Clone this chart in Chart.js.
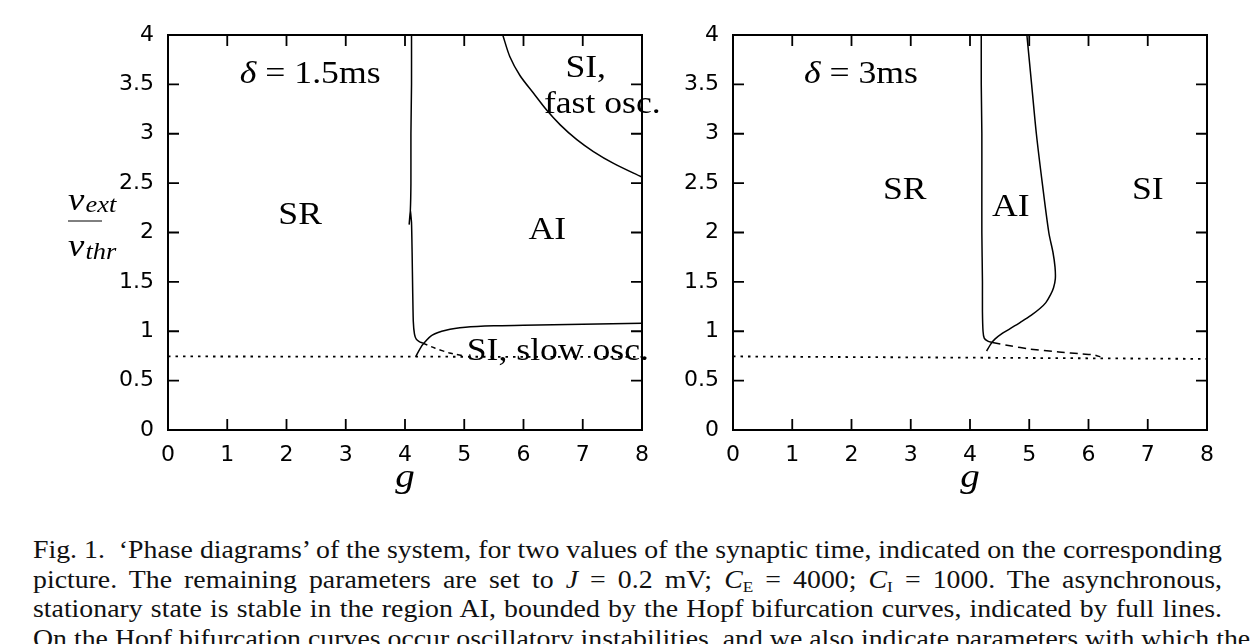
<!DOCTYPE html>
<html><head><meta charset="utf-8">
<script src="https://cdn.jsdelivr.net/npm/chart.js@4.4.1/dist/chart.umd.min.js"></script>
<style>
html,body{margin:0;padding:0;background:#fff;width:1254px;height:644px;overflow:hidden;position:relative;}
#c1{position:absolute;left:0;top:0;}
#c2{position:absolute;left:660px;top:0;}
#cap{position:absolute;left:33px;top:535px;font-family:'Liberation Serif',serif;font-size:24.5px;line-height:29.7px;color:#111;transform-origin:0 0;}
#cap div{text-align:justify;text-align-last:justify;white-space:nowrap;}
#cap sub{font-size:0.62em;vertical-align:-0.25em;line-height:0;}
</style></head><body>
<canvas id="c1" width="680" height="500"></canvas>
<canvas id="c2" width="594" height="500"></canvas>
<div id="cap">
<div id="l1">Fig. 1.&nbsp; ‘Phase diagrams’ of the system, for two values of the synaptic time, indicated on the corresponding</div>
<div>picture. The remaining parameters are set to <i>J</i> = 0.2 mV; <i>C</i><sub>E</sub> = 4000; <i>C</i><sub>I</sub> = 1000. The asynchronous,</div>
<div>stationary state is stable in the region AI, bounded by the Hopf bifurcation curves, indicated by full lines.</div>
<div>On the Hopf bifurcation curves occur oscillatory instabilities, and we also indicate parameters with which the SR state</div>
</div>
<script>
// ---- axes ----
const gTicks = [0, 1, 2, 3, 4, 5, 6, 7, 8];
const nuTicks = [0, 0.5, 1, 1.5, 2, 2.5, 3, 3.5, 4];

// ---- panel A: delta = 1.5 ms ----
const aLeftG  = [4.11, 4.11, 4.10, 4.10, 4.09, 4.07, 4.09, 4.11, 4.12, 4.13, 4.14, 4.16, 4.19, 4.24, 4.30];
const aLeftNu = [4.00, 3.50, 3.00, 2.50, 2.22, 2.08, 2.22, 2.10, 1.80, 1.40, 1.10, 0.97, 0.92, 0.895, 0.88];
const aDashG  = [4.30, 4.50, 4.75, 5.00];
const aDashNu = [0.88, 0.83, 0.78, 0.75];
const aLowG   = [4.18, 4.25, 4.32, 4.46, 4.69, 5.02, 5.50, 6.00, 7.00, 8.00];
const aLowNu  = [0.74, 0.82, 0.88, 0.96, 1.01, 1.04, 1.055, 1.06, 1.07, 1.08];
const aFastG  = [5.65, 5.77, 5.94, 6.17, 6.39, 6.62, 6.90, 7.18, 7.52, 8.00];
const aFastNu = [4.00, 3.78, 3.59, 3.41, 3.24, 3.09, 2.94, 2.82, 2.70, 2.56];
const aDotG   = [0, 8];
const aDotNu  = [0.745, 0.74];

// ---- panel B: delta = 3 ms ----
const bLeftG  = [4.19, 4.19, 4.20, 4.20, 4.20, 4.21, 4.21, 4.22, 4.24, 4.30, 4.38];
const bLeftNu = [4.00, 3.50, 3.00, 2.50, 2.00, 1.50, 1.20, 1.00, 0.93, 0.90, 0.885];
const bDashG  = [4.38, 4.70, 5.00, 5.50, 5.90, 6.10, 6.20];
const bDashNu = [0.885, 0.85, 0.82, 0.79, 0.77, 0.76, 0.74];
const bRightG  = [4.28, 4.35, 4.42, 4.55, 4.66, 4.85, 5.03, 5.18, 5.28, 5.36, 5.41, 5.44, 5.435, 5.40, 5.33, 5.22, 5.12, 5.04, 4.96];
const bRightNu = [0.80, 0.87, 0.92, 0.98, 1.02, 1.09, 1.16, 1.23, 1.29, 1.37, 1.44, 1.53, 1.65, 1.80, 2.00, 2.50, 3.00, 3.50, 4.00];
const bDotG   = [0, 8];
const bDotNu  = [0.745, 0.72];

// ---- region labels (text, g, nu of baseline) ----
const aLabels = [
  {parts: [['δ', true], [' = 1.5ms', false]], g: 2.40, v: 3.51, size: 31},
  {parts: [['SR', false]], g: 2.23, v: 2.09, size: 31},
  {parts: [['AI', false]], g: 6.40, v: 1.93, size: 31},
  {parts: [['SI,', false]], g: 7.05, v: 3.57, size: 31},
  {parts: [['fast osc.', false]], g: 7.33, v: 3.21, size: 31},
  {parts: [['SI, slow osc.', false]], g: 6.58, v: 0.71, size: 31}
];
const bLabels = [
  {parts: [['δ', true], [' = 3ms', false]], g: 2.16, v: 3.51, size: 31},
  {parts: [['SR', false]], g: 2.90, v: 2.34, size: 31},
  {parts: [['AI', false]], g: 4.69, v: 2.17, size: 31},
  {parts: [['SI', false]], g: 7.00, v: 2.34, size: 31}
];

function pts(gs, nus) { return gs.map((g, i) => ({x: g, y: nus[i]})); }
function ds(gs, nus, dash, tension, width) {
  return {data: pts(gs, nus), showLine: true, borderColor: '#000', borderWidth: width || 1.5,
          borderDash: dash || [], pointRadius: 0, tension: tension === undefined ? 0.25 : tension, fill: false};
}

const SX = 1.15;
function drawParts(ctx, parts, cx, by, size) {
  let total = 0;
  const widths = parts.map(([t, it]) => {
    ctx.font = (it ? 'italic ' : '') + size + 'px "Liberation Serif"';
    const w = ctx.measureText(t).width; total += w; return w;
  });
  let x = cx - total * SX / 2;
  parts.forEach(([t, it], i) => {
    ctx.font = (it ? 'italic ' : '') + size + 'px "Liberation Serif"';
    ctx.save(); ctx.translate(x, by); ctx.scale(SX, 1); ctx.fillText(t, 0, 0); ctx.restore();
    x += widths[i] * SX;
  });
}

const decor = {
  id: 'phaseDecor',
  afterDatasetsDraw(chart, args, opts) {
    const {ctx, chartArea: a, scales: {x, y}} = chart;
    ctx.save();
    ctx.strokeStyle = '#000'; ctx.fillStyle = '#000';
    ctx.lineWidth = 2;
    ctx.strokeRect(a.left, a.top, a.right - a.left, a.bottom - a.top);
    ctx.lineWidth = 1.8;
    const L = 11;
    ctx.beginPath();
    gTicks.forEach(v => { const p = x.getPixelForValue(v);
      ctx.moveTo(p, a.bottom); ctx.lineTo(p, a.bottom - L);
      ctx.moveTo(p, a.top); ctx.lineTo(p, a.top + L); });
    nuTicks.forEach(v => { const p = y.getPixelForValue(v);
      ctx.moveTo(a.left, p); ctx.lineTo(a.left + L, p);
      ctx.moveTo(a.right, p); ctx.lineTo(a.right - L, p); });
    ctx.stroke();
    ctx.textBaseline = 'alphabetic';
    opts.labels.forEach(l => drawParts(ctx, l.parts, x.getPixelForValue(l.g), y.getPixelForValue(l.v), l.size));
    // x title
    drawParts(ctx, [['g', true]], (a.left + a.right) / 2, a.bottom + 57, 34);
    if (opts.yTitle) {
      const x0 = a.left - 100;
      ctx.save(); ctx.translate(x0, 210); ctx.scale(SX, 1);
      ctx.font = 'italic 32px "Liberation Serif"'; ctx.fillText('ν', 0, 0);
      const w1 = ctx.measureText('ν').width;
      ctx.font = 'italic 23px "Liberation Serif"'; ctx.fillText('ext', w1 + 1, 2);
      ctx.restore();
      ctx.lineWidth = 1;
      ctx.beginPath(); ctx.moveTo(x0, 221); ctx.lineTo(x0 + 34, 221); ctx.stroke();
      ctx.save(); ctx.translate(x0, 256); ctx.scale(SX, 1);
      ctx.font = 'italic 32px "Liberation Serif"'; ctx.fillText('ν', 0, 0);
      const w2 = ctx.measureText('ν').width;
      ctx.font = 'italic 23px "Liberation Serif"'; ctx.fillText('thr', w2 + 1, 3);
      ctx.restore();
    }
    ctx.restore();
  }
};

function makeChart(id, datasets, labels, yWidth, padRight, yTitle) {
  const tickFont = {family: 'DejaVu Sans', size: 22};
  return new Chart(document.getElementById(id), {
    type: 'scatter',
    data: {datasets},
    options: {
      responsive: false, animation: false, devicePixelRatio: 1,
      layout: {padding: {left: 0, top: 35, right: padRight, bottom: 0}},
      plugins: {legend: {display: false}, tooltip: {enabled: false}, phaseDecor: {labels, yTitle}},
      scales: {
        x: {type: 'linear', min: 0, max: 8,
            afterBuildTicks: s => { s.ticks = gTicks.map(v => ({value: v})); },
            grid: {display: false, drawTicks: false}, border: {display: false},
            ticks: {font: tickFont, color: '#000', padding: 12, maxRotation: 0, autoSkip: false,
                    callback: v => String(v)},
            afterFit: s => { s.height = 70; }},
        y: {type: 'linear', min: 0, max: 4,
            afterBuildTicks: s => { s.ticks = nuTicks.map(v => ({value: v})); },
            grid: {display: false, drawTicks: false}, border: {display: false},
            ticks: {font: tickFont, color: '#000', padding: 14, autoSkip: false,
                    callback: v => String(v)},
            afterFit: s => { s.width = yWidth; }}
      }
    },
    plugins: [decor]
  });
}

makeChart('c1', [
  ds(aDotG, aDotNu, [2.5, 5], 0, 1.8),
  ds(aLeftG, aLeftNu, [], 0.15),
  ds(aDashG, aDashNu, [5, 4], 0.2),
  ds(aLowG, aLowNu, [], 0.3),
  ds(aFastG, aFastNu, [], 0.3)
], aLabels, 168, 38, true);

makeChart('c2', [
  ds(bDotG, bDotNu, [2.5, 5], 0, 1.8),
  ds(bLeftG, bLeftNu, [], 0.15),
  ds(bDashG, bDashNu, [8, 5], 0.2),
  ds(bRightG, bRightNu, [], 0.3)
], bLabels, 73, 47, false);

// caption: stretch to reference width
(function () {
  const cap = document.getElementById('cap');
  const l1 = document.getElementById('l1');
  const span = document.createElement('span');
  span.innerHTML = l1.innerHTML; span.style.whiteSpace = 'nowrap';
  cap.appendChild(span);
  const w = span.getBoundingClientRect().width;
  cap.removeChild(span);
  const k = 1189 / w;
  cap.style.width = (1189 / k) + 'px';
  cap.style.transform = 'scaleX(' + k + ')';
})();
</script>
</body></html>
